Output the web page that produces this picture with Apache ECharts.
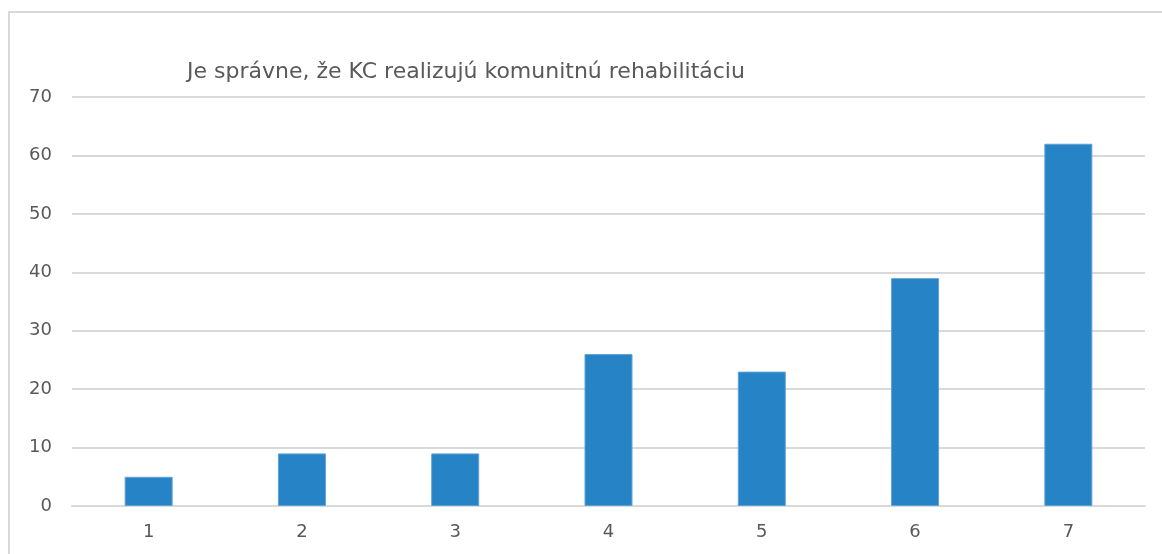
<!DOCTYPE html>
<html>
<head>
<meta charset="utf-8">
<script src="https://cdn.jsdelivr.net/npm/echarts@6/dist/echarts.min.js"></script>
<style>
  html, body { margin: 0; padding: 0; background: #fff; }
  #frame { position: absolute; left: 8px; top: 11px; width: 1160px; height: 560px; border: 2px solid #d9d9d9; box-sizing: border-box; }
  #chart { position: absolute; left: 0; top: 0; width: 1162px; height: 554px; }
</style>
</head>
<body>
<div id="frame"></div>
<div id="chart"></div>
<script>
// Ratings 1–7 and how many respondents chose each
const categories = ['1', '2', '3', '4', '5', '6', '7'];
const counts = [5, 9, 9, 26, 23, 39, 62];
const yTicks = { min: 0, max: 70, interval: 10 };
const titleText = 'Je správne, že KC realizujú komunitnú rehabilitáciu';

const fontFamily = '"DejaVu Sans", sans-serif';
const chart = echarts.init(document.getElementById('chart'), null, { renderer: 'canvas' });
chart.setOption({
  animation: false,
  backgroundColor: 'transparent',
  title: {
    text: titleText,
    left: 182,
    top: 56,
    textStyle: { fontFamily, fontSize: 22, fontWeight: 'normal', color: '#595959' }
  },
  grid: { left: 72, right: 17, top: 97, bottom: 48, containLabel: false },
  xAxis: {
    type: 'category',
    data: categories,
    axisLine: { show: true, lineStyle: { color: '#d9d9d9', width: 2 } },
    axisTick: { show: false },
    axisLabel: { color: '#595959', fontFamily, fontSize: 18, margin: 17 }
  },
  yAxis: {
    type: 'value',
    min: yTicks.min,
    max: yTicks.max,
    interval: yTicks.interval,
    axisLine: { show: false },
    axisTick: { show: false },
    axisLabel: { color: '#595959', fontFamily, fontSize: 18, margin: 20 },
    splitLine: { lineStyle: { color: '#d9d9d9', width: 2 } }
  },
  series: [{
    type: 'bar',
    data: counts,
    barWidth: 48,
    itemStyle: { color: '#2683c6', borderColor: '#5fa2d8', borderWidth: 1 }
  }]
});
</script>
</body>
</html>
